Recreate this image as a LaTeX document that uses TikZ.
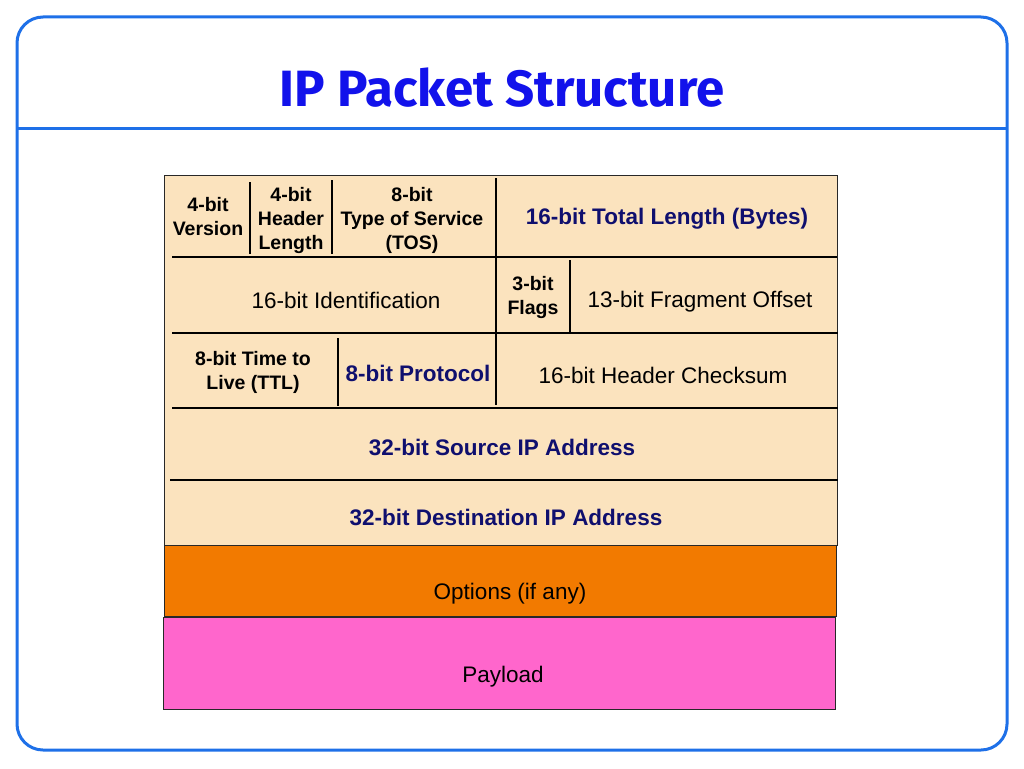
\documentclass[tikz,border=0pt]{standalone}
\usepackage{fontspec}
\setmainfont{Liberation Sans}
\newfontfamily\titlefont{Fira Sans}
\definecolor{framec}{RGB}{30,112,232}
\definecolor{titlec}{RGB}{18,18,235}
\definecolor{navy}{RGB}{15,15,110}
\definecolor{beige}{RGB}{251,227,190}
\definecolor{orangec}{RGB}{242,122,0}
\definecolor{pinkc}{RGB}{255,102,204}
\tikzset{
  big/.style={font=\fontsize{22.5}{27}\selectfont, inner sep=0pt, align=center},
  bigb/.style={font=\fontsize{22.5}{27}\selectfont\bfseries, text=navy, inner sep=0pt, align=center},
  small/.style={font=\fontsize{19.5}{24}\selectfont\bfseries, inner sep=0pt, align=center},
  sepline/.style={line width=2.5pt, black},
  block/.style={draw={rgb,255:red,40;green,40;blue,40}, line width=1pt, anchor=north west, inner sep=0pt},
}
\begin{document}
\begin{tikzpicture}[x=1pt,y=-1pt]
\useasboundingbox (0,0) rectangle (1024,768);
% frame
\draw[framec, line width=3pt, rounded corners=26pt] (17,17) rectangle (1007,750);
\draw[framec, line width=3pt] (17,128) -- (1007,128);
\node[font=\titlefont\bfseries\fontsize{51}{60}\selectfont, text=titlec, inner sep=0pt] (title) at (502,88) {IP Packet Structure};
% blocks
\node[block, fill=beige, minimum width=673pt, minimum height=370pt] (hdr) at (164,175) {};
\node[block, fill=orangec, minimum width=672pt, minimum height=71pt] (opt) at (164,545) {};
\node[block, fill=pinkc, minimum width=672pt, minimum height=92pt] (pay) at (163,617) {};
% separators
\draw[sepline] (172,257) -- (837,257);
\draw[sepline] (172,333) -- (838,333);
\draw[sepline] (172,408) -- (838,408);
\draw[sepline] (170,480) -- (838,480);
\draw[sepline] (250,182) -- (250,254);
\draw[sepline] (332,180) -- (332,254);
\draw[sepline] (496,178) -- (496,405);
\draw[sepline] (570,260) -- (570,333);
\draw[sepline] (338,338) -- (338,406);
% texts
\node[small] (ver) at (208,217) {4-bit\\Version};
\node[small] (hlen) at (291,220) {4-bit\\Header\\Length};
\node[small] (tos) at (412,220) {8-bit\\Type of Service\\(TOS)};
\node[bigb] (tlen) at (667,219) {16-bit Total Length (Bytes)};
\node[big] (ident) at (346,300) {16-bit Identification};
\node[small] (flags) at (533,297) {3-bit\\Flags};
\node[big] (frag) at (700,302) {13-bit Fragment Offset};
\node[small] (ttl) at (253,372) {8-bit Time to\\Live (TTL)};
\node[bigb] (proto) at (418,373) {8-bit Protocol};
\node[big] (csum) at (663,375) {16-bit Header Checksum};
\node[bigb] (src) at (502,447) {32-bit Source IP Address};
\node[bigb] (dst) at (506,517) {32-bit Destination IP Address};
\node[big] (optt) at (510,594) {Options (if any)};
\node[big] (payt) at (503,677) {Payload};
\end{tikzpicture}
\end{document}
